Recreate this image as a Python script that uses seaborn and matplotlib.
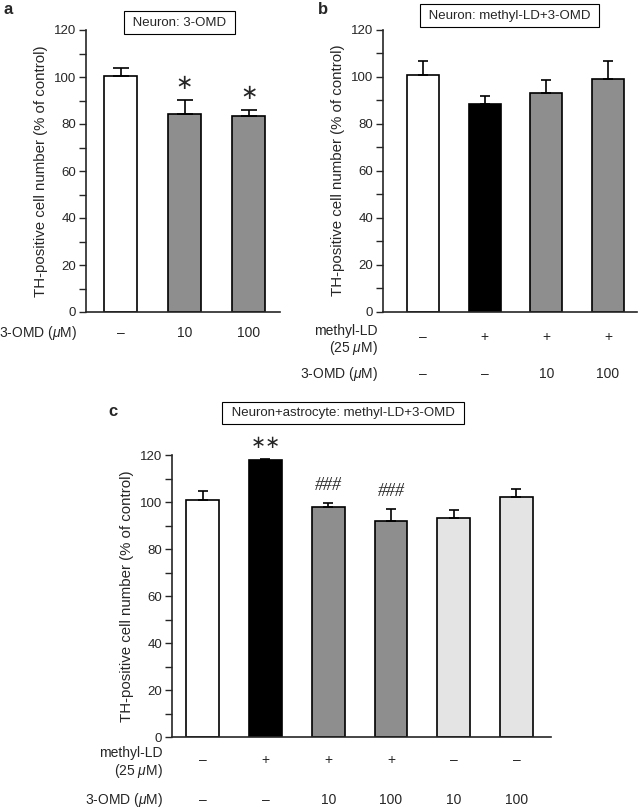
import numpy as np
import matplotlib
matplotlib.use("Agg")
import matplotlib.pyplot as plt
import matplotlib.transforms as mtransforms
from matplotlib.ticker import MultipleLocator
import seaborn as sns

# panel a: neuron, 3-OMD alone
a_groups = ["control", "3-OMD 10", "3-OMD 100"]
a_means = [100.6, 84.1, 83.4]
a_errs = [3.4, 6.1, 2.4]
a_colors = ["#ffffff", "#8e8e8e", "#8e8e8e"]
a_omd = ["–", "10", "100"]
a_stars = ["", "∗", "∗"]

# panel b: neuron, methyl-LD + 3-OMD
b_groups = ["control", "LD", "LD+10", "LD+100"]
b_means = [100.5, 88.4, 92.8, 98.9]
b_errs = [6.2, 3.3, 5.7, 7.8]
b_colors = ["#ffffff", "#000000", "#8e8e8e", "#8e8e8e"]
b_ld = ["–", "+", "+", "+"]
b_omd = ["–", "–", "10", "100"]

# panel c: neuron + astrocyte
c_groups = ["control", "LD", "LD+10", "LD+100", "10", "100"]
c_means = [100.7, 117.7, 97.7, 92.0, 93.2, 102.1]
c_errs = [3.8, 0.6, 1.7, 5.0, 3.4, 3.3]
c_colors = ["#ffffff", "#000000", "#8e8e8e", "#8e8e8e", "#e4e4e4", "#e4e4e4"]
c_ld = ["–", "+", "+", "+", "–", "–"]
c_omd = ["–", "–", "10", "100", "10", "100"]
c_marks = ["", "∗∗", "###", "###", "", ""]

sns.set_style("ticks")
plt.rcParams["font.family"] = ["Liberation Sans", "DejaVu Sans"]
plt.rcParams["mathtext.fontset"] = "custom"
plt.rcParams["mathtext.rm"] = "Liberation Sans"
plt.rcParams["mathtext.it"] = "Liberation Sans:italic"

W, H = 638, 808
TXT = 10
fig = plt.figure(figsize=(W / 100, H / 100), dpi=100)


def px(x, y):
    return x / W, 1 - y / H


def make_axes(left, right, top, bottom):
    return fig.add_axes([left / W, 1 - bottom / H, (right - left) / W, (bottom - top) / H])


def draw_bars(ax, groups, means, errs, colors, xlim, cap):
    sns.barplot(x=groups, y=means, hue=groups, palette=colors, order=groups,
                hue_order=groups, width=0.52, edgecolor="black", linewidth=1.2,
                legend=False, ax=ax, errorbar=None)
    n = len(groups)
    ax.errorbar(np.arange(n), means, yerr=[np.zeros(n), errs], fmt="none",
                ecolor="black", elinewidth=1.2, capsize=cap, capthick=1.2, zorder=5)
    ax.set_ylim(0, 120)
    ax.set_xlim(*xlim)
    ax.yaxis.set_major_locator(MultipleLocator(20))
    ax.yaxis.set_minor_locator(MultipleLocator(10))
    ax.tick_params(axis="y", which="both", direction="out", length=5, width=1,
                   labelsize=9.5, pad=2)
    ax.set_xticks([])
    ax.set_xlabel("")
    ax.set_ylabel("TH-positive cell number (% of control)", fontsize=10.8, labelpad=4)
    for s in ["top", "right"]:
        ax.spines[s].set_visible(False)
    for s in ["left", "bottom"]:
        ax.spines[s].set_linewidth(1.2)


def sign_row(ax, labels, ypix):
    tr = mtransforms.blended_transform_factory(ax.transData, fig.transFigure)
    for i, lab in enumerate(labels):
        ax.text(i, 1 - ypix / H, lab, transform=tr, ha="center", va="center",
                fontsize=TXT)


def title_box(text, cx, cy):
    fig.text(*px(cx, cy), " " + text + " ", ha="center", va="center", fontsize=9.5,
             bbox=dict(boxstyle="square,pad=0.4", fc="white", ec="black", lw=0.8))


# ---- panel a
ax_a = make_axes(86, 280, 30, 312)
draw_bars(ax_a, a_groups, a_means, a_errs, a_colors, (-0.54, 2.49), 5.5)
sign_row(ax_a, a_omd, 333)
for i, s in enumerate(a_stars):
    if s:
        ax_a.text(i, a_means[i] + a_errs[i] + 3, s, ha="center", va="bottom",
                  fontsize=15, family="DejaVu Sans")
fig.text(*px(77, 333), "3-OMD ($\\mu$M)", ha="right", va="center", fontsize=TXT)
fig.text(*px(4, 10), "a", ha="left", va="center", fontsize=12, weight="bold")
title_box("Neuron: 3-OMD", 179.5, 22.5)

# ---- panel b
ax_b = make_axes(383, 637, 29.5, 311.7)
draw_bars(ax_b, b_groups, b_means, b_errs, b_colors, (-0.65, 3.47), 3.8)
sign_row(ax_b, b_ld, 337)
sign_row(ax_b, b_omd, 374)
fig.text(*px(378, 331), "methyl-LD", ha="right", va="center", fontsize=TXT)
fig.text(*px(378, 348), "(25 $\\mu$M)", ha="right", va="center", fontsize=TXT)
fig.text(*px(378, 374), "3-OMD ($\\mu$M)", ha="right", va="center", fontsize=TXT)
fig.text(*px(318, 10), "b", ha="left", va="center", fontsize=12, weight="bold")
title_box("Neuron: methyl-LD+3-OMD", 509.5, 15.5)

# ---- panel c
ax_c = make_axes(172, 551, 455, 737.3)
draw_bars(ax_c, c_groups, c_means, c_errs, c_colors, (-0.49, 5.55), 3.8)
sign_row(ax_c, c_ld, 760)
sign_row(ax_c, c_omd, 800)
for i, m in enumerate(c_marks):
    if m == "∗∗":
        ax_c.text(i, c_means[i] + c_errs[i] + 3, m, ha="center", va="bottom",
                  fontsize=13, family="DejaVu Sans")
    elif m:
        ax_c.text(i, c_means[i] + c_errs[i] + 4, m, ha="center", va="bottom",
                  fontsize=13, family="Liberation Serif", style="italic")
fig.text(*px(163, 753), "methyl-LD", ha="right", va="center", fontsize=TXT)
fig.text(*px(163, 771), "(25 $\\mu$M)", ha="right", va="center", fontsize=TXT)
fig.text(*px(163, 800), "3-OMD ($\\mu$M)", ha="right", va="center", fontsize=TXT)
fig.text(*px(108, 412), "c", ha="left", va="center", fontsize=12, weight="bold")
title_box("Neuron+astrocyte: methyl-LD+3-OMD", 343, 413)

fig.savefig("out.png", dpi=100)
